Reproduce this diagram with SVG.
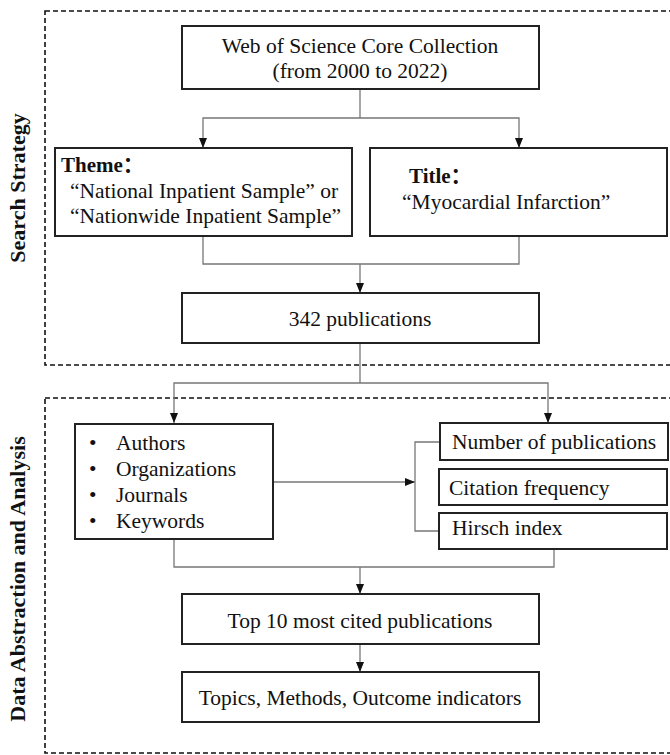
<svg xmlns="http://www.w3.org/2000/svg" width="670" height="755" viewBox="0 0 670 755">
<defs>
<marker id="arr" markerUnits="userSpaceOnUse" markerWidth="10" markerHeight="10" refX="10" refY="4" orient="auto">
<path d="M0,0 L10,4 L0,8 z" fill="#111"/>
</marker>
<style>
.box{fill:#fff;stroke:#222;stroke-width:2}
.dash{fill:none;stroke:#111;stroke-width:1.6;stroke-dasharray:5 3}
.con{fill:none;stroke:#777;stroke-width:1.3}
.t{font-family:"Liberation Serif","Times New Roman",serif;font-size:21.5px;fill:#111}
.b{font-family:"Liberation Serif","Noto Sans CJK SC",serif;font-size:21px;font-weight:bold;fill:#111}
.lab{font-family:"Liberation Serif","Times New Roman",serif;font-size:22px;font-weight:bold;fill:#111}
</style>
</defs>
<rect class="dash" x="45" y="11" width="640" height="354"/>
<rect class="dash" x="45" y="398" width="640" height="355"/>
<text class="lab" transform="translate(25,188) rotate(-90)" text-anchor="middle">Search Strategy</text>
<text class="lab" transform="translate(25,579) rotate(-90)" text-anchor="middle">Data Abstraction and Analysis</text>
<g id="connectors">
<path class="con" d="M360 89 V118"/>
<path class="con" d="M360 118 H203 V148" marker-end="url(#arr)"/>
<path class="con" d="M360 118 H519 V148" marker-end="url(#arr)"/>
<path class="con" d="M203 236 V264 H519 V236"/>
<path class="con" d="M360 264 V293" marker-end="url(#arr)"/>
<path class="con" d="M360 343 V383"/>
<path class="con" d="M360 383 H174 V423" marker-end="url(#arr)"/>
<path class="con" d="M360 383 H548 V423" marker-end="url(#arr)"/>
<path class="con" d="M273 482 H415" marker-end="url(#arr)"/>
<path class="con" d="M440 442 H415 V531 H440"/>
<path class="con" d="M174 539 V567 H554 V549"/>
<path class="con" d="M360 567 V594" marker-end="url(#arr)"/>
<path class="con" d="M360 644 V672" marker-end="url(#arr)"/>
</g>
<g id="wos">
<rect class="box" x="182" y="26" width="357" height="63"/>
<text class="t" x="360" y="53" text-anchor="middle">Web of Science Core Collection</text>
<text class="t" x="360" y="78" text-anchor="middle">(from 2000 to 2022)</text>
</g>
<g id="theme">
<rect class="box" x="55" y="148" width="297" height="88"/>
<text class="b" x="61" y="172">Theme：</text>
<text class="t" x="70" y="198">“National Inpatient Sample” or</text>
<text class="t" x="70" y="223">“Nationwide Inpatient Sample”</text>
</g>
<g id="title">
<rect class="box" x="370" y="148" width="297" height="88"/>
<text class="b" x="409" y="183">Title：</text>
<text class="t" x="402" y="209">“Myocardial Infarction”</text>
</g>
<g id="pubs">
<rect class="box" x="182" y="293" width="357" height="50"/>
<text class="t" x="360" y="326" text-anchor="middle">342 publications</text>
</g>
<g id="items">
<rect class="box" x="75" y="424" width="198" height="115"/>
<text class="t" x="89" y="450">•</text><text class="t" x="116" y="450">Authors</text>
<text class="t" x="89" y="476">•</text><text class="t" x="116" y="476">Organizations</text>
<text class="t" x="89" y="502">•</text><text class="t" x="116" y="502">Journals</text>
<text class="t" x="89" y="528">•</text><text class="t" x="116" y="528">Keywords</text>
</g>
<g id="numpubs">
<rect class="box" x="440" y="423" width="228" height="37"/>
<text class="t" x="452" y="449">Number of publications</text>
</g>
<g id="citfreq">
<rect class="box" x="439" y="469" width="228" height="36"/>
<text class="t" x="449" y="495">Citation frequency</text>
</g>
<g id="hirsch">
<rect class="box" x="439" y="513" width="228" height="36"/>
<text class="t" x="452" y="535">Hirsch index</text>
</g>
<g id="top10">
<rect class="box" x="182" y="594" width="357" height="50"/>
<text class="t" x="360" y="628" text-anchor="middle">Top 10 most cited publications</text>
</g>
<g id="topics">
<rect class="box" x="182" y="672" width="357" height="50"/>
<text class="t" x="360" y="705" text-anchor="middle">Topics, Methods, Outcome indicators</text>
</g>
</svg>
